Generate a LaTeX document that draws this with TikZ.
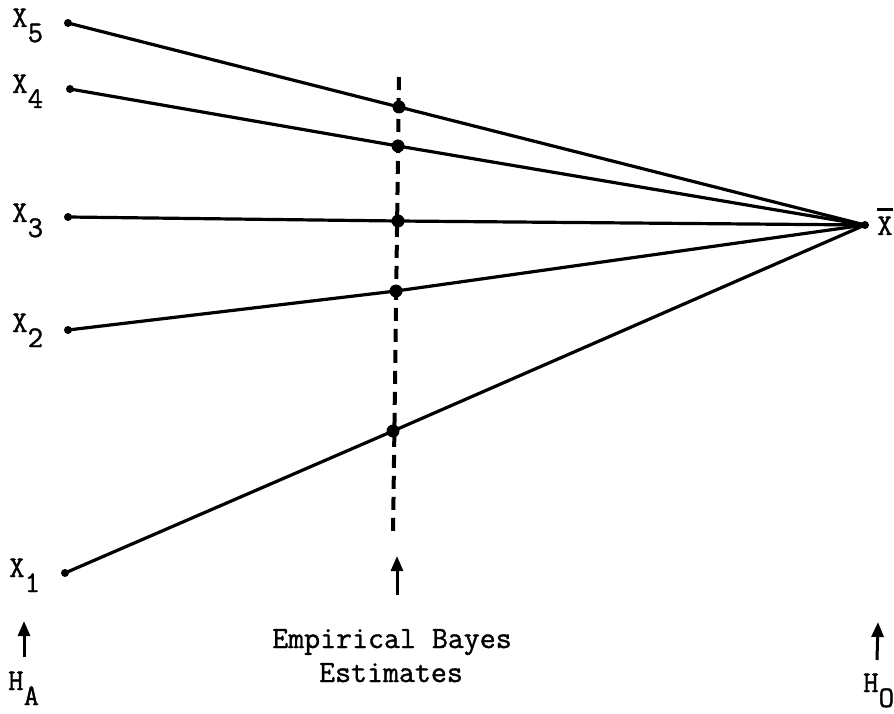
\documentclass[tikz,border=0pt]{standalone}
\usepackage{fontspec}
\newfontface\tw[FakeBold=1.2]{Latin Modern Mono}
\usetikzlibrary{arrows.meta}
\newcommand\lowsub[1]{\raisebox{-15pt}{#1}}
\tikzset{
  lab/.style={inner sep=0pt, font=\tw\fontsize{30}{34}\selectfont},
  est/.style={inner sep=0pt, font=\tw\fontsize{31}{34}\selectfont},
  ray/.style={line width=3.2pt},
  guide/.style={line width=4pt, dash pattern=on 13pt off 8pt},
  pt/.style={circle, fill=black, inner sep=0pt, minimum size=8pt},
  bigpt/.style={circle, fill=black, inner sep=0pt, minimum size=13pt},
  up/.style={line width=3pt, -{Triangle[length=15pt,width=12pt]}},
  bar/.style={line width=2.5pt}
}
\begin{document}
\begin{tikzpicture}[x=1pt,y=-1pt]
\useasboundingbox (0,0) rectangle (894,714);
% labels
\node[lab, anchor=base west] (l5) at (12,27) {X\lowsub{5}};
\node[lab, anchor=base west] (l4) at (12,93) {X\lowsub{4}};
\node[lab, anchor=base west] (l3) at (12,222) {X\lowsub{3}};
\node[lab, anchor=base west] (l2) at (12,332) {X\lowsub{2}};
\node[lab, anchor=base west] (l1) at (9,577) {X\lowsub{1}};
\node[lab, anchor=base west] (xb) at (877,235) {X};
\draw[bar] ([yshift=7pt]xb.north west) -- ([yshift=7pt]xb.north east);
% endpoints
\node[pt] (x5) at (68,23) {};
\node[pt] (x4) at (70,89) {};
\node[pt] (x3) at (68,217) {};
\node[pt] (x2) at (68,330) {};
\node[pt] (x1) at (65,573) {};
\node[pt] (m) at (865,225) {};
% dashed guide
\coordinate (gt) at (399,77);
\coordinate (gb) at (393,537);
\draw[guide] (gt) -- (gb);
% estimate dots
\node[bigpt] (e5) at (399,107) {};
\node[bigpt] (e4) at (398,146) {};
\node[bigpt] (e3) at (398,221) {};
\node[bigpt] (e2) at (396,291) {};
\node[bigpt] (e1) at (393,431) {};
% rays
\draw[ray] (x5.center) -- (e5.center) -- (m.center);
\draw[ray] (x4.center) -- (e4.center) -- (m.center);
\draw[ray] (x3.center) -- (e3.center) -- (m.center);
\draw[ray] (x2.center) -- (e2.center) -- (m.center);
\draw[ray] (x1.center) -- (e1.center) -- (m.center);
% arrows
\coordinate (a1s) at (24,657); \coordinate (a1e) at (24,621);
\coordinate (a2s) at (397,595); \coordinate (a2e) at (397,556);
\coordinate (a3s) at (877,660); \coordinate (a3e) at (878,622);
\draw[up] (a1s) -- (a1e);
\draw[up] (a2s) -- (a2e);
\draw[up] (a3s) -- (a3e);
% bottom labels
\node[lab, anchor=base west] (ha) at (8,690) {H\lowsub{A}};
\node[lab, anchor=base west] (ho) at (863,692) {H\lowsub{O}};
\node[est, anchor=base] (t1) at (392,648) {Empirical Bayes};
\node[est, anchor=base] (t2) at (391,682) {Estimates};
\end{tikzpicture}
\end{document}
